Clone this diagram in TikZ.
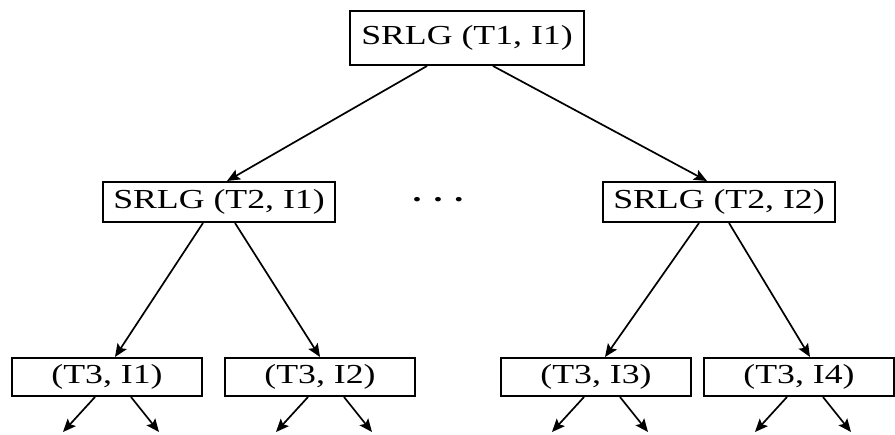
\documentclass[tikz,border=0pt]{standalone}
\usepackage{fontspec}
\setmainfont[FakeStretch=1.3]{Liberation Serif}
\usepackage{tikz}
\usetikzlibrary{arrows.meta}

\begin{document}
\begin{tikzpicture}[->,>={Stealth[length=13pt,width=11pt,inset=2.5pt]},line width=1.7pt,
  box node/.style={rectangle,draw,line width=2pt,inner sep=0pt,font=\fontsize{27.5}{31}\selectfont},
  top node/.style={box node,minimum width=234pt,minimum height=54pt},
  mid node/.style={box node,minimum width=232pt,minimum height=40pt},
  leaf node/.style={box node,minimum width=190pt,minimum height=38pt}]

  \useasboundingbox (0pt,0pt) rectangle (895pt,-435pt);

  \node[top node] (t1i1) at (467pt,-38pt) {SRLG (T1, I1)};
  \node[mid node] (t2i1) [below of=t1i1, node distance=164pt, xshift=-248pt] {SRLG (T2, I1)};
  \node[mid node] (t2i2) [below of=t1i1, node distance=164pt, xshift=252pt] {SRLG (T2, I2)};
  \node[font=\fontsize{27.5}{31}\selectfont\bfseries] (dots) [right of=t2i1, node distance=219pt, yshift=2pt] {. . .};

  \node[leaf node] (t3i1) [below of=t2i1, node distance=175pt, xshift=-112pt] {(T3, I1)};
  \node[leaf node] (t3i2) [below of=t2i1, node distance=175pt, xshift=101pt] {(T3, I2)};
  \node[leaf node] (t3i3) [below of=t2i2, node distance=175pt, xshift=-123pt] {(T3, I3)};
  \node[leaf node] (t3i4) [below of=t2i2, node distance=175pt, xshift=80pt] {(T3, I4)};

  \path
    ([xshift=-40pt]t1i1.south) edge ([xshift=8pt]t2i1.north)
    ([xshift=26pt]t1i1.south) edge ([xshift=-12pt]t2i2.north)
    ([xshift=-16pt]t2i1.south) edge ([xshift=8pt]t3i1.north)
    ([xshift=16pt]t2i1.south) edge (t3i2.north)
    ([xshift=-20pt]t2i2.south) edge ([xshift=9pt]t3i3.north)
    ([xshift=10pt]t2i2.south) edge ([xshift=11pt]t3i4.north);

  % open ends below the bottom row
  \foreach \leaf in {t3i1,t3i2,t3i3,t3i4} {
    \coordinate (\leaf-a) at ([xshift=-44pt,yshift=-35pt]\leaf.south);
    \coordinate (\leaf-b) at ([xshift=52pt,yshift=-35pt]\leaf.south);
    \draw ([xshift=-12pt]\leaf.south) -- (\leaf-a);
    \draw ([xshift=24pt]\leaf.south) -- (\leaf-b);
  }

\end{tikzpicture}
\end{document}
